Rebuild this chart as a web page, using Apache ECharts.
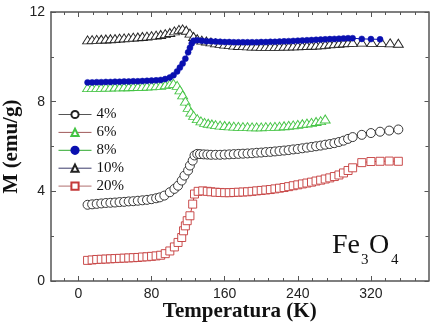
<!DOCTYPE html>
<html><head><meta charset="utf-8">
<script src="https://cdn.jsdelivr.net/npm/echarts@6/dist/echarts.min.js"></script>
<style>html,body{margin:0;padding:0;background:#fff}#c{width:438px;height:327px}</style>
</head><body><div id="c"></div>
<script>
// ---- data ----
const seriesNames = ['4%', '6%', '8%', '10%', '20%'];
const xMajorValues = [0, 80, 160, 240, 320];
const xMinorValues = [-16, 16, 32, 48, 64, 96, 112, 128, 144, 176, 192, 208, 224, 256, 272, 288, 304, 336, 352, 368];

const temp4 = [10,15,20,25,30,35,40,45,50,55,60,65,70,75,80,85,89,94,100,105,109,113,116,120,122,125,127,130,133,137,141,145,150,155,160,165,170,175,180,185,190,195,200,205,210,215,220,225,230,235,240,245,250,255,260,265,270,275,280,285,290,295,300,310,320,330,340,350];
const mag4 = [3.40,3.42,3.44,3.46,3.48,3.49,3.50,3.52,3.53,3.55,3.56,3.58,3.60,3.62,3.65,3.69,3.73,3.81,3.96,4.11,4.25,4.48,4.70,4.93,5.15,5.37,5.60,5.67,5.66,5.65,5.64,5.63,5.63,5.63,5.64,5.65,5.66,5.67,5.68,5.69,5.70,5.72,5.73,5.75,5.76,5.78,5.80,5.82,5.84,5.87,5.89,5.92,5.95,5.98,6.01,6.04,6.08,6.11,6.15,6.20,6.26,6.34,6.42,6.52,6.60,6.66,6.71,6.76];

const temp6 = [10,15,20,25,30,35,40,45,50,55,60,65,70,75,80,85,90,95,100,104,108,111,114,117,120,123,126,130,134,138,142,146,150,155,160,165,170,175,180,185,190,195,200,205,210,215,220,225,230,235,240,245,250,255,260,265,270];
const mag6 = [8.47,8.47,8.48,8.48,8.49,8.49,8.50,8.50,8.51,8.51,8.52,8.52,8.53,8.54,8.55,8.56,8.57,8.60,8.64,8.66,8.57,8.37,8.15,7.87,7.59,7.38,7.23,7.09,6.99,6.92,6.88,6.85,6.82,6.80,6.78,6.76,6.75,6.74,6.73,6.73,6.72,6.72,6.72,6.73,6.73,6.74,6.75,6.77,6.79,6.81,6.83,6.86,6.89,6.92,6.96,7.00,7.07];

const temp8 = [10,15,20,25,30,35,40,45,50,55,60,65,70,75,80,85,90,95,100,104,108,111,114,117,120,122,124,126,130,135,140,145,150,155,160,165,170,175,180,185,190,195,200,205,210,215,220,225,230,235,240,245,250,255,260,265,270,275,280,285,290,295,300,310,320,330];
const mag8 = [8.86,8.86,8.87,8.87,8.88,8.88,8.89,8.89,8.90,8.90,8.91,8.91,8.92,8.93,8.94,8.95,8.97,9.01,9.08,9.18,9.35,9.52,9.70,9.92,10.20,10.40,10.60,10.72,10.74,10.72,10.70,10.69,10.68,10.67,10.66,10.66,10.65,10.65,10.65,10.65,10.65,10.65,10.66,10.66,10.67,10.67,10.68,10.69,10.70,10.71,10.72,10.73,10.74,10.75,10.76,10.77,10.78,10.79,10.80,10.81,10.82,10.83,10.83,10.80,10.79,10.78];

const temp10 = [10,15,20,25,30,35,40,45,50,55,60,65,70,75,80,85,90,95,100,105,110,114,118,122,126,130,135,140,145,150,155,160,165,170,175,180,185,190,195,200,205,210,215,220,225,230,235,240,245,250,255,260,265,270,275,280,285,290,295,300,310,321,332,341,350];
const mag10 = [10.60,10.61,10.62,10.63,10.64,10.65,10.66,10.68,10.69,10.70,10.72,10.73,10.75,10.77,10.79,10.81,10.84,10.88,10.93,11.00,11.07,11.09,11.03,10.90,10.75,10.65,10.59,10.55,10.51,10.47,10.44,10.41,10.39,10.37,10.35,10.34,10.33,10.32,10.32,10.31,10.31,10.31,10.31,10.31,10.32,10.32,10.33,10.33,10.34,10.35,10.36,10.37,10.38,10.40,10.42,10.43,10.45,10.47,10.48,10.49,10.50,10.49,10.48,10.47,10.45];

const temp20 = [10,15,20,25,30,35,40,45,50,55,60,65,70,75,80,85,90,95,100,105,109,113,115,117,119,122,125,127,131,136,141,145,150,155,160,165,170,175,180,185,190,195,200,205,210,215,220,225,230,235,240,245,250,255,260,265,270,275,280,285,290,295,300,310,320,330,340,350];
const mag20 = [0.92,0.94,0.96,0.97,0.98,0.99,1.00,1.01,1.02,1.03,1.04,1.05,1.07,1.08,1.10,1.12,1.15,1.22,1.34,1.52,1.72,1.94,2.24,2.46,2.69,2.91,3.43,3.88,4.00,4.02,4.00,3.98,3.96,3.95,3.94,3.94,3.95,3.96,3.97,3.98,4.00,4.02,4.04,4.06,4.08,4.11,4.14,4.17,4.21,4.25,4.29,4.33,4.37,4.41,4.46,4.50,4.55,4.60,4.66,4.73,4.82,4.93,5.05,5.28,5.33,5.34,5.35,5.34];

// ---- chart ----
const pairs = (t, m) => t.map((x, i) => [x, m[i]]);
const serif = '"Liberation Serif", "Times New Roman", serif';
const sans = '"Liberation Sans", Arial, sans-serif';
const frame = { show: true, onZero: false, lineStyle: { color: '#555', width: 1.5 } };

function xAxisCfg(pos, ticks, len, labels, line) {
  return {
    type: 'value', position: pos, min: -30, max: 383,
    axisLine: line ? frame : { show: false, onZero: false },
    axisTick: { show: true, inside: true, length: len, customValues: ticks, lineStyle: { color: '#555', width: 1 } },
    axisLabel: labels ? { show: true, customValues: xMajorValues, fontSize: 14, fontFamily: sans, color: '#222', margin: 6 } : { show: false },
    splitLine: { show: false }
  };
}

const xAxes = [
  Object.assign(xAxisCfg('bottom', xMajorValues, 5, true, true), {
    name: 'Temperatura (K)', nameLocation: 'middle', nameGap: 20, nameMoveOverlap: false,
    nameTextStyle: { fontFamily: serif, fontWeight: 'bold', fontSize: 21, color: '#111', verticalAlign: 'top' }
  }),
  xAxisCfg('bottom', xMinorValues, 3, false, false),
  xAxisCfg('top', xMajorValues, 5, false, true),
  xAxisCfg('top', xMinorValues, 3, false, false)
];

const yAxes = [
  {
    type: 'value', position: 'left', min: 0, max: 12, interval: 4,
    axisLine: frame,
    axisTick: { inside: true, length: 5, lineStyle: { color: '#555' } },
    minorTick: { show: true, splitNumber: 2, length: 3, lineStyle: { color: '#555' } },
    axisLabel: { fontSize: 14, fontFamily: sans, color: '#222', margin: 6 },
    splitLine: { show: false },
    name: 'M (emu/g)', nameLocation: 'middle', nameGap: 29, nameMoveOverlap: false,
    nameTextStyle: { fontFamily: serif, fontWeight: 'bold', fontSize: 21, color: '#111' }
  },
  {
    type: 'value', position: 'right', min: 0, max: 12, interval: 4,
    axisLine: frame,
    axisTick: { inside: true, length: 4, lineStyle: { color: '#555' } },
    minorTick: { show: true, splitNumber: 2, length: 3, lineStyle: { color: '#555' } },
    axisLabel: { show: false },
    splitLine: { show: false }
  }
];

const series = [
  { name: seriesNames[0], data: pairs(temp4, mag4), symbol: 'circle', symbolSize: 9,
    itemStyle: { color: '#fff', borderColor: '#222', borderWidth: 0.9 }, lineStyle: { color: '#222', width: 1 }, z: 2 },
  { name: seriesNames[1], data: pairs(temp6, mag6), symbol: 'triangle', symbolSize: [10, 8], symbolOffset: [0, -3.5],
    itemStyle: { color: '#fff', borderColor: '#44c444', borderWidth: 0.9 }, lineStyle: { color: '#2fb52f', width: 1 }, z: 2 },
  { name: seriesNames[2], data: pairs(temp8, mag8), symbol: 'circle', symbolSize: 6,
    itemStyle: { color: '#0a10b0', borderColor: '#0a10b0', borderWidth: 0.5 }, lineStyle: { color: '#0a10b0', width: 1 }, z: 4 },
  { name: seriesNames[3], data: pairs(temp10, mag10), symbol: 'triangle', symbolSize: [10, 8], symbolOffset: [0, -3.5],
    itemStyle: { color: '#fff', borderColor: '#222', borderWidth: 0.9 }, lineStyle: { color: '#111', width: 1 }, z: 3 },
  { name: seriesNames[4], data: pairs(temp20, mag20), symbol: 'rect', symbolSize: 8,
    itemStyle: { color: '#fff', borderColor: '#c43a3a', borderWidth: 0.9 }, lineStyle: { color: '#c43a3a', width: 1 }, z: 2 }
].map(s => Object.assign({ type: 'line', xAxisIndex: 0, yAxisIndex: 0, showSymbol: true, animation: false }, s));

const legendLineColors = ['#555', '#a05a5a', '#2ea82e', '#3a3a6a', '#b07070'];

const chart = echarts.init(document.getElementById('c'), null, { renderer: 'canvas' });
chart.setOption({
  animation: false,
  grid: { left: 51, top: 12, right: 9.5, bottom: 46, containLabel: false, outerBoundsMode: 'none' },
  xAxis: xAxes,
  yAxis: yAxes,
  legend: {
    orient: 'vertical', left: 53, top: 102, itemWidth: 33, itemHeight: 9, itemGap: 2.9,
    textStyle: { fontFamily: serif, fontSize: 15, color: '#111', lineHeight: 15 },
    data: seriesNames.map((n, i) => ({ name: n, lineStyle: { color: legendLineColors[i], width: 1 } })),
    selectedMode: false
  },
  graphic: [
    { type: 'text', x: 332, y: 246, style: { text: 'Fe', font: '28px ' + serif, fill: '#111', verticalAlign: 'middle' } },
    { type: 'text', x: 361, y: 260, style: { text: '3', font: '15px ' + serif, fill: '#111', verticalAlign: 'middle' } },
    { type: 'text', x: 369, y: 246, style: { text: 'O', font: '28px ' + serif, fill: '#111', verticalAlign: 'middle' } },
    { type: 'text', x: 391, y: 260, style: { text: '4', font: '15px ' + serif, fill: '#111', verticalAlign: 'middle' } }
  ],
  series: series
});
</script></body></html>
